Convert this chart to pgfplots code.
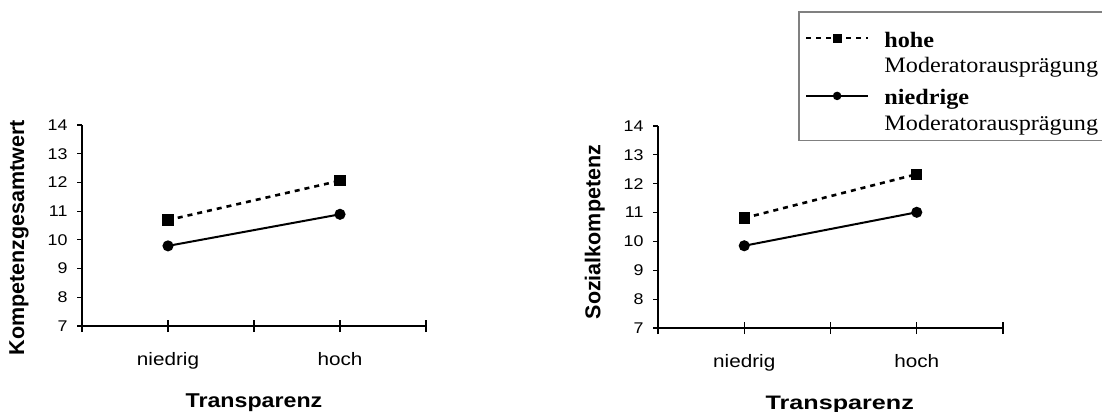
\documentclass[border=0pt]{standalone}
\usepackage{fontspec}
\usepackage{pgfplots}
\pgfplotsset{compat=1.18}
\setmainfont{Liberation Serif}
\newfontfamily\ticksf[FakeStretch=1.15]{Liberation Sans}
\newfontfamily\labsf{Liberation Sans}
\newfontfamily\xlabA[FakeStretch=1.16]{Liberation Sans}
\newfontfamily\xlabB[FakeStretch=1.29]{Liberation Sans}
\newfontfamily\legfont[FakeStretch=1.1]{Liberation Serif}
\newcommand\xt[1]{{\ticksf\fontsize{18bp}{20bp}\selectfont #1}}
\newcommand\yt[1]{{\ticksf\fontsize{15.5bp}{17bp}\selectfont #1}}
\pgfplotsset{
  panel/.style={
    scale only axis,
    xmin=0, xmax=4, ymin=7, ymax=14,
    axis x line=bottom, axis y line=left,
    axis line style={-, line width=1.2bp, black},
    xtick={0,1,2,3,4},
    xticklabels={,\xt{niedrig},,\xt{hoch},},
    ytick={7,8,9,10,11,12,13,14},
    yticklabels={\yt{7},\yt{8},\yt{9},\yt{10},\yt{11},\yt{12},\yt{13},\yt{14}},
    xtick align=center, ytick align=outside,
    major tick length=5bp,
    x tick style={black, line width=1.2bp, /pgfplots/major tick length=12bp},
    y tick style={black, line width=1.2bp},
    xticklabel style={anchor=base, yshift=-37bp},
    yticklabel style={anchor=east, xshift=-6bp},
    clip=false,
    legend image code/.code={\draw[mark repeat=2,mark phase=2,##1] plot coordinates {(0bp,0bp) (31bp,0bp) (62bp,0bp)}; \path (0bp,17bp);},
  },
  hohe/.style={black, line width=2.6bp, dash pattern=on 5bp off 5bp, mark=square*, mark size=4.3bp, mark options={solid}},
  nied/.style={black, line width=2bp, solid, mark=*, mark size=4.5bp},
}
\begin{document}
\begin{tikzpicture}
\useasboundingbox (0,0) rectangle (1102bp,412bp);
\begin{axis}[panel,
  at={(82bp,86bp)}, anchor=south west,
  width=344bp, height=201bp,
  ylabel={Kompetenzgesamtwert},
  ylabel style={at={(axis description cs:-0.183,0.44)}, anchor=center, rotate=0, font=\labsf\bfseries\fontsize{21.5bp}{23bp}\selectfont},
  xlabel={Transparenz},
  xlabel style={at={(axis description cs:0.5,-0.403)}, anchor=base, font=\xlabA\bfseries\fontsize{20bp}{22bp}\selectfont},
]
\addplot[hohe] coordinates {(1,10.69) (3,12.06)};
\addplot[nied] coordinates {(1,9.79) (3,10.89)};
\end{axis}
\begin{axis}[panel,
  at={(658bp,84bp)}, anchor=south west,
  width=345bp, height=202bp,
  ylabel={Sozialkompetenz},
  ylabel style={at={(axis description cs:-0.183,0.475)}, anchor=center, rotate=0, font=\labsf\bfseries\fontsize{21.5bp}{23bp}\selectfont},
  xlabel={Transparenz},
  xlabel style={at={(axis description cs:0.527,-0.401)}, anchor=base, font=\xlabB\bfseries\fontsize{19.5bp}{22bp}\selectfont},
  legend style={at={(axis description cs:0.406,1.569)}, anchor=north west,
    draw=black!50, line width=1.5bp, fill=white,
    inner xsep=6bp, inner ysep=8bp,
    font=\legfont\fontsize{22bp}{24bp}\selectfont,
    row sep=3.4bp, column sep=15bp,
    nodes={inner sep=0pt, text height=20bp, text depth=2bp}},
  legend cell align=left,
  legend image post style={mark size=3.2bp},
]
\addplot[hohe] coordinates {(1,10.81) (3,12.33)};
\addlegendentry{\textbf{hohe}}
\addlegendimage{empty legend}
\addlegendentry{Moderatorausprägung}
\addplot[nied] coordinates {(1,9.85) (3,11.01)};
\addlegendentry{\textbf{niedrige}}
\addlegendimage{empty legend}
\addlegendentry{Moderatorausprägung}
\end{axis}
\end{tikzpicture}
\end{document}
